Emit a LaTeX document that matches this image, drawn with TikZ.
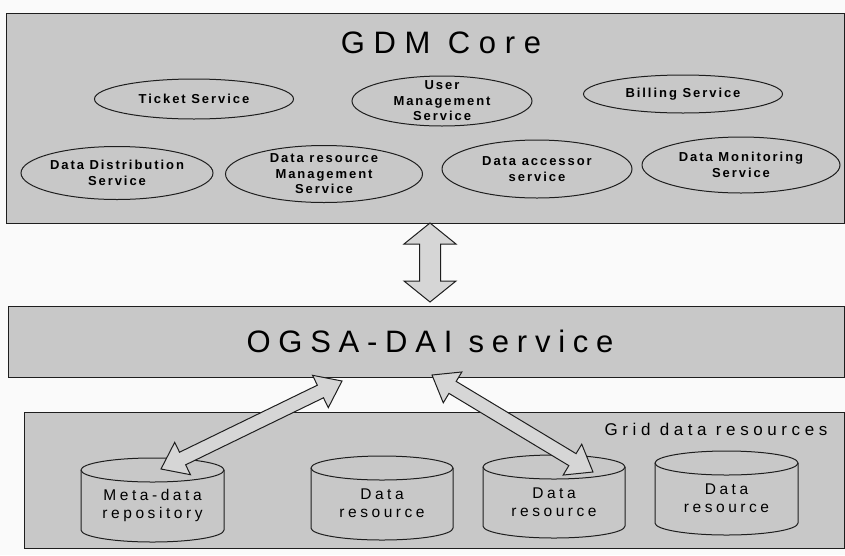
\documentclass[tikz,border=0pt]{standalone}
\usepackage{fontspec}
\setmainfont{Liberation Sans}
\newfontfamily\gdmsp[LetterSpace=28]{Liberation Sans}
\newfontfamily\bigsp[LetterSpace=25]{Liberation Sans}
\newfontfamily\midsp[LetterSpace=23]{Liberation Sans}
\newfontfamily\gridsp[LetterSpace=27]{Liberation Sans}
\newfontfamily\ellsp[LetterSpace=15]{Liberation Sans}
\usetikzlibrary{shapes.geometric,calc}
\definecolor{panelgray}{RGB}{200,200,200}
\definecolor{arrowgray}{RGB}{214,214,214}
\definecolor{paper}{RGB}{250,250,250}
\definecolor{inkline}{RGB}{30,30,30}
\tikzset{
  panel/.style={draw=inkline, line width=1.1pt, fill=panelgray, anchor=north west, inner sep=0pt},
  bigtitle/.style={font=\bigsp\fontsize{31}{36}\selectfont, anchor=base, inner sep=0pt},
  gdmtitlestyle/.style={font=\gdmsp\fontsize{31}{36}\selectfont, anchor=base, inner sep=0pt},
  gridtitle/.style={font=\gridsp\fontsize{17}{20}\selectfont, anchor=base, inner sep=0pt},
  svcshape/.style={ellipse, draw=inkline, line width=1pt, fill=panelgray, inner sep=0pt},
  svctext/.style={align=center, inner sep=0pt, font=\ellsp\bfseries\fontsize{13}{15.5}\selectfont},
  cyltext/.style={align=center, inner sep=0pt, font=\midsp\fontsize{15.5}{18}\selectfont},
  cylbody/.style={draw=inkline, line width=1pt, fill=panelgray},
  fatarrow/.style={draw=inkline, line width=1pt, fill=arrowgray, line join=miter},
}
% name, centre, width, height, text
\newcommand\svcnode[5]{%
  \node[svcshape, minimum width=#3pt, minimum height=#4pt] (#1) at (#2) {};
  \node[svctext] (#1-t) at (#1.center) {#5};}
% name, left, top, right, bottom, text
\newcommand\drawcyl[6]{%
  \pgfmathsetmacro\cylcx{(#2+#4)/2}%
  \pgfmathsetmacro\cylrx{(#4-#2)/2}%
  \filldraw[cylbody] (#2,#3+12) -- (#2,#5-12)
    arc[start angle=180,end angle=360,x radius=\cylrx pt,y radius=12pt]
    -- (#4,#3+12)
    arc[start angle=0,end angle=180,x radius=\cylrx pt,y radius=12pt] -- cycle;
  \draw[cylbody, fill=none] (#2,#3+12)
    arc[start angle=180,end angle=360,x radius=\cylrx pt,y radius=12pt];
  \node[cyltext] (#1) at (\cylcx,#3+47) {#6};}
% from, to, half shaft, half head, head length
\newcommand\fatarr[5]{%
  \coordinate (fa-p) at ($(#1)!#5!(#2)$);
  \coordinate (fa-q) at ($(#2)!#5!(#1)$);
  \filldraw[fatarrow] (#1)
    -- ($(fa-p)!#4!90:(#2)$) -- ($(fa-p)!#3!90:(#2)$)
    -- ($(fa-q)!#3!90:(#2)$) -- ($(fa-q)!#4!90:(#2)$)
    -- (#2)
    -- ($(fa-q)!#4!-90:(#2)$) -- ($(fa-q)!#3!-90:(#2)$)
    -- ($(fa-p)!#3!-90:(#2)$) -- ($(fa-p)!#4!-90:(#2)$)
    -- cycle;}
\begin{document}
\begin{tikzpicture}[x=1pt, y=-1pt]
  \fill[paper] (0,0) rectangle (845,555);
  \useasboundingbox (0,0) rectangle (845,555);

  % GDM core panel
  \node[panel, minimum width=838pt, minimum height=210pt] (gdm) at (6,13) {};
  \node[gdmtitlestyle] (gdmtitle) at (441,53) {GDM Core};
  \svcnode{ticket}{194,99}{199}{40}{Ticket Service}
  \svcnode{user}{442,101}{180}{50}{User\\Management\\Service}
  \svcnode{bill}{683,94}{199}{38}{Billing Service}
  \svcnode{dist}{117,173}{192}{53}{Data Distribution\\Service}
  \svcnode{drm}{324,174}{197}{57}{Data resource\\Management\\Service}
  \svcnode{acc}{537,169}{190}{58}{Data accessor\\service}
  \svcnode{mon}{741,165}{198}{56}{Data Monitoring\\Service}

  % OGSA-DAI panel
  \node[panel, minimum width=836pt, minimum height=71pt] (ogsa) at (8,306) {};
  \node[bigtitle] (ogsatitle) at (430,352) {OGSA-DAI service};

  % Grid data resources panel
  \node[panel, minimum width=820pt, minimum height=136pt] (grid) at (24,412) {};
  \node[gridtitle] (gridtitle) at (716,435) {Grid data resources};
  \drawcyl{meta}{81}{458}{224}{542}{Meta-data\\repository}
  \drawcyl{res1}{311}{456}{453}{540}{Data\\resource}
  \drawcyl{res2}{483}{455}{625}{538}{Data\\resource}
  \drawcyl{res3}{655}{451}{798}{535}{Data\\resource}

  % connectors
  \coordinate (v1) at (430,223);
  \coordinate (v2) at (430,302);
  \fatarr{v1}{v2}{10.5pt}{26pt}{21pt}
  \coordinate (a1t) at (342,381);
  \coordinate (a1b) at (161,469);
  \fatarr{a1t}{a1b}{7pt}{18pt}{24pt}
  \coordinate (a2t) at (432,375);
  \coordinate (a2b) at (593,472);
  \fatarr{a2t}{a2b}{7pt}{18pt}{24pt}
\end{tikzpicture}
\end{document}
